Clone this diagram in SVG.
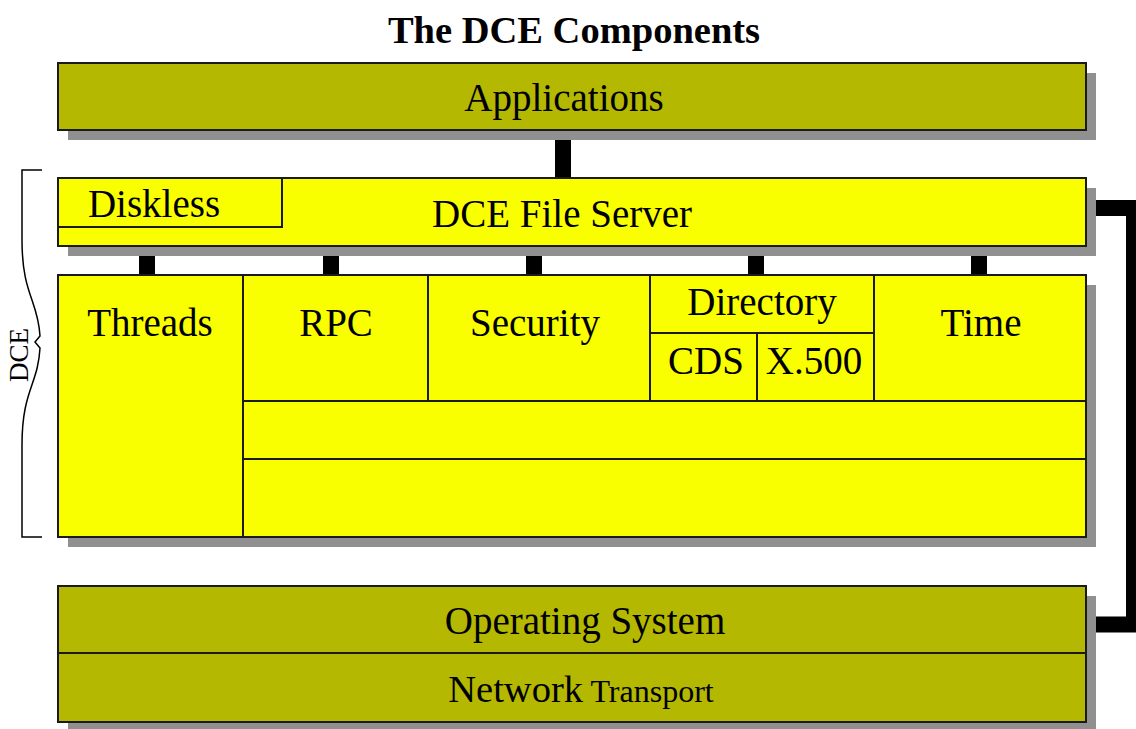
<svg xmlns="http://www.w3.org/2000/svg" width="1136" height="729" viewBox="0 0 1136 729">
<style>
.t{font-family:"Liberation Serif","Times New Roman",serif;fill:#000;text-anchor:middle}
.lbl{font-size:39px}
.olive{fill:#B4B800;stroke:#1a1a1a;stroke-width:2}
.yel{fill:#FAFF00;stroke:#1a1a1a;stroke-width:2}
.sh{fill:#909090}
.bar{fill:#000}
</style>
<rect width="1136" height="729" fill="#fff"/>
<text class="t" x="574" y="43" font-size="38.5" font-weight="bold">The DCE Components</text>

<g id="connectors">
<rect class="bar" x="555" y="130" width="16" height="48"/>
<rect class="bar" x="139" y="246" width="16" height="30"/>
<rect class="bar" x="323" y="246" width="16" height="30"/>
<rect class="bar" x="526" y="246" width="16" height="30"/>
<rect class="bar" x="748" y="246" width="16" height="30"/>
<rect class="bar" x="971" y="246" width="16" height="30"/>
<path d="M1086,208 H1134 V624.5 H1086" fill="none" stroke="#000" stroke-width="16" stroke-linejoin="miter"/>
</g>

<g id="applications">
<rect class="sh" x="68" y="73" width="1028" height="67"/>
<rect class="olive" x="58" y="63" width="1028" height="67"/>
<text class="t lbl" x="564" y="111">Applications</text>
</g>

<g id="fileserver">
<rect class="sh" x="68" y="188" width="1028" height="68"/>
<rect class="yel" x="58" y="178" width="1028" height="68"/>
<text class="t lbl" x="562" y="227">DCE File Server</text>
</g>
<g id="diskless">
<rect class="yel" x="58" y="178" width="224" height="49"/>
<text class="t lbl" x="154" y="217">Diskless</text>
</g>

<g id="dce-block">
<rect class="sh" x="68" y="285" width="1028" height="262"/>
<rect class="yel" x="58" y="275" width="1028" height="262"/>
</g>
<g id="threads">
<rect class="yel" x="58" y="275" width="185" height="262"/>
<text class="t lbl" x="150" y="336">Threads</text>
</g>
<g id="rpc">
<rect class="yel" x="243" y="275" width="185" height="126"/>
<text class="t lbl" x="336" y="336">RPC</text>
</g>
<g id="security">
<rect class="yel" x="428" y="275" width="222" height="126"/>
<text class="t lbl" x="535" y="336">Security</text>
</g>
<g id="directory">
<rect class="yel" x="650" y="275" width="224" height="58"/>
<text class="t lbl" x="762" y="315">Directory</text>
</g>
<g id="cds">
<rect class="yel" x="650" y="333" width="107" height="68"/>
<text class="t lbl" x="706" y="374">CDS</text>
</g>
<g id="x500">
<rect class="yel" x="757" y="333" width="117" height="68"/>
<text class="t lbl" x="814" y="374">X.500</text>
</g>
<g id="time">
<rect class="yel" x="874" y="275" width="212" height="126"/>
<text class="t lbl" x="981" y="336">Time</text>
</g>
<g id="row2">
<rect class="yel" x="243" y="401" width="843" height="58"/>
</g>
<g id="row3">
<rect class="yel" x="243" y="459" width="843" height="78"/>
</g>

<g id="os">
<rect class="sh" x="68" y="596" width="1028" height="136"/>
<rect class="olive" x="58" y="586" width="1028" height="67"/>
<text class="t lbl" x="585" y="634">Operating System</text>
</g>
<g id="network">
<rect class="olive" x="58" y="653" width="1028" height="69"/>
<text class="t" x="581" y="702"><tspan font-size="38.5">Network</tspan><tspan font-size="32"> Transport</tspan></text>
</g>

<g id="dce-brace">
<path d="M42,170 H22 V240 C22,295 38,300 40,336 L35,342 L40,348 C38,385 22,390 22,445 V537 H42" fill="none" stroke="#000" stroke-width="1.5"/>
<text class="t" font-size="27" transform="translate(28,355) rotate(-90)">DCE</text>
</g>
</svg>
